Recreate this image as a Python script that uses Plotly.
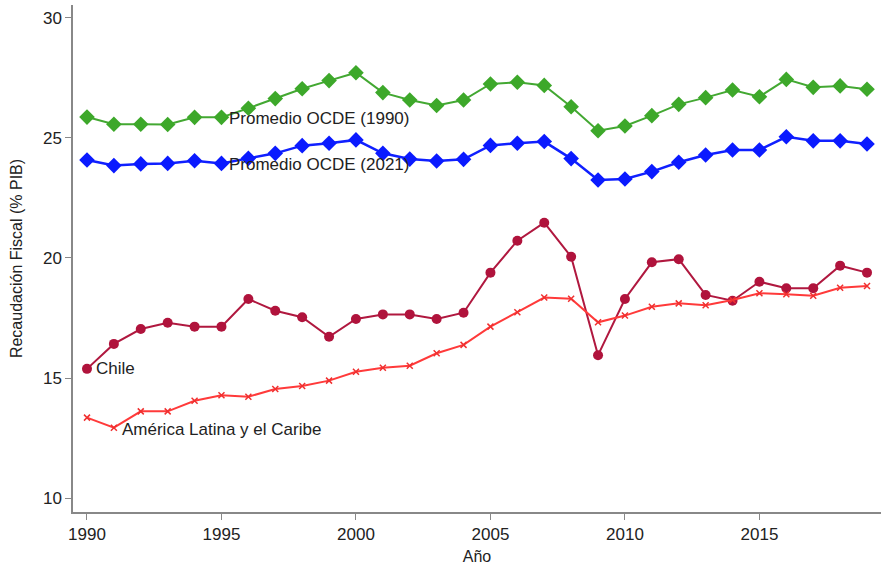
import plotly.graph_objects as go

years = list(range(1990, 2020))

ocde_1990 = [25.87, 25.57, 25.57, 25.56, 25.86, 25.86, 26.24, 26.64, 27.05, 27.39,
             27.72, 26.89, 26.58, 26.35, 26.58, 27.25, 27.32, 27.19, 26.30, 25.30,
             25.50, 25.93, 26.40, 26.68, 27.00, 26.72, 27.44, 27.11, 27.17, 27.03]

ocde_2021 = [24.08, 23.85, 23.92, 23.94, 24.05, 23.94, 24.15, 24.36, 24.68, 24.78,
             24.92, 24.36, 24.12, 24.04, 24.11, 24.69, 24.78, 24.85, 24.14, 23.25,
             23.29, 23.60, 23.99, 24.29, 24.50, 24.50, 25.05, 24.88, 24.88, 24.75]

chile = [15.38, 16.42, 17.04, 17.30, 17.14, 17.14, 18.29, 17.80, 17.53, 16.72,
         17.46, 17.65, 17.65, 17.46, 17.72, 19.39, 20.72, 21.47, 20.05, 15.95,
         18.29, 19.82, 19.95, 18.46, 18.22, 19.01, 18.74, 18.74, 19.68, 19.39]

alc = [13.35, 12.93, 13.61, 13.61, 14.05, 14.28, 14.22, 14.54, 14.67, 14.89,
       15.26, 15.43, 15.51, 16.03, 16.38, 17.14, 17.74, 18.35, 18.30, 17.32,
       17.60, 17.97, 18.11, 18.03, 18.25, 18.53, 18.49, 18.43, 18.76, 18.83]

labels = ["Promedio OCDE (1990)", "Promedio OCDE (2021)", "Chile", "América Latina y el Caribe"]
x_ticks = [1990, 1995, 2000, 2005, 2010, 2015]
y_ticks = [10, 15, 20, 25, 30]

FONT = "Liberation Sans, Arial, Helvetica, sans-serif"

fig = go.Figure()
fig.add_trace(go.Scatter(x=years, y=ocde_1990, mode="lines+markers", name=labels[0],
                         line=dict(color="#43A832", width=2),
                         marker=dict(symbol="diamond", size=12, color="#3DA82A")))
fig.add_trace(go.Scatter(x=years, y=ocde_2021, mode="lines+markers", name=labels[1],
                         line=dict(color="#1020FF", width=2.5),
                         marker=dict(symbol="diamond", size=12, color="#0A1AFF")))
fig.add_trace(go.Scatter(x=years, y=chile, mode="lines+markers", name=labels[2],
                         line=dict(color="#B0183F", width=2),
                         marker=dict(symbol="circle", size=10, color="#B0133C")))
fig.add_trace(go.Scatter(x=years, y=alc, mode="lines+markers", name=labels[3],
                         line=dict(color="#FF3A3A", width=2),
                         marker=dict(symbol="x-thin", size=6, color="#F03030",
                                     line=dict(width=1.5, color="#F03030"))))

ann = [
    (years[5], ocde_1990[5], labels[0], 6, -1),
    (years[5], ocde_2021[5], labels[1], 6, -1),
    (years[0], chile[0], labels[2], 7, 0),
    (years[1], alc[1], labels[3], 6, -2),
]
for x, y, t, xs, ys in ann:
    fig.add_annotation(x=x, y=y, text=t, showarrow=False, xanchor="left", yanchor="middle",
                       xshift=xs, yshift=ys, font=dict(family=FONT, size=17, color="#222222"))

fig.update_layout(
    width=881, height=567,
    margin=dict(l=73, r=0, t=5, b=55),
    paper_bgcolor="white", plot_bgcolor="white",
    showlegend=False,
    font=dict(family=FONT, size=17, color="#222222"),
)
fig.update_xaxes(
    range=[1989.48, 2019.52], tickvals=x_ticks, ticks="outside", ticklen=6,
    tickcolor="#888888", showline=True, linecolor="#888888", linewidth=1.5,
    showgrid=False, zeroline=False, automargin=False,
    tickfont=dict(size=17),
    title=dict(text="Año", font=dict(size=16), standoff=8),
)
fig.update_yaxes(
    range=[9.417, 30.54], tickvals=y_ticks, ticks="outside", ticklen=6,
    tickcolor="#888888", showline=True, linecolor="#888888", linewidth=1.5,
    showgrid=False, zeroline=False, automargin=False,
    tickfont=dict(size=17),
    title=dict(text="Recaudación Fiscal (% PIB)", font=dict(size=16), standoff=16),
)

fig.write_html("out.html", config={"displayModeBar": False},
               post_script="document.body.style.margin='0';document.body.style.padding='0';")
